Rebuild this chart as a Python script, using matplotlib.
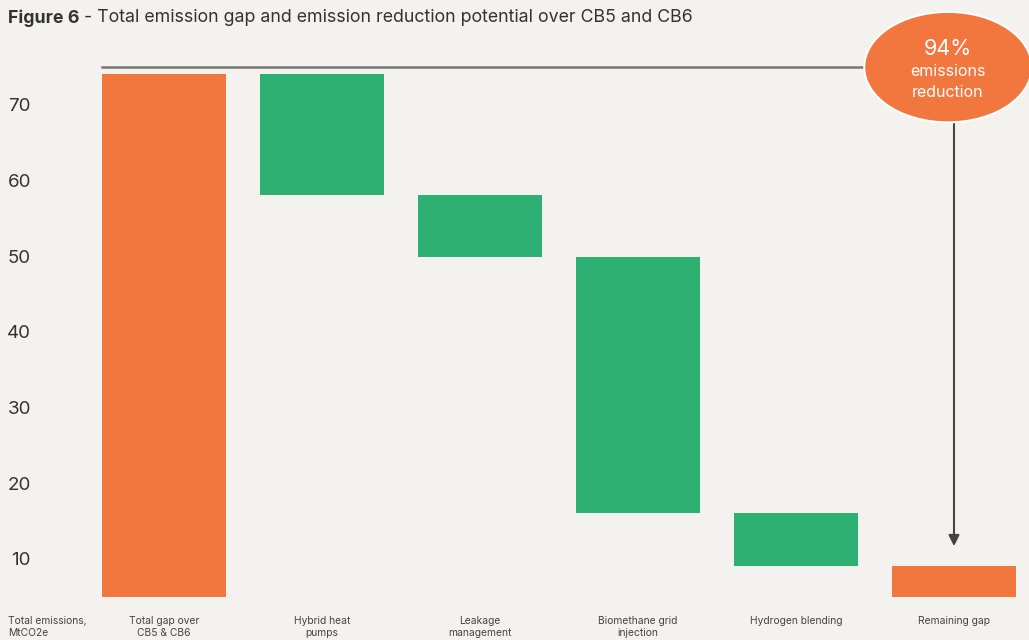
import matplotlib
matplotlib.use("Agg")
import matplotlib.pyplot as plt
from matplotlib.patches import Ellipse

# Waterfall data (MtCO2e)
baseline = 5.0
categories = ["Total gap over\nCB5 & CB6", "Hybrid heat\npumps", "Leakage\nmanagement",
              "Biomethane grid\ninjection", "Hydrogen blending", "Remaining gap"]
total_gap = 69.1
reductions = [16.0, 8.2, 33.8, 7.0]
remaining_gap = 4.1
yticks = [10, 20, 30, 40, 50, 60, 70]
reduction_pct = "94%"

ORANGE = "#f2773f"
GREEN = "#2fb073"
BG = "#f3f2ee"
TEXT = "#333333"

plt.rcParams["font.family"] = ["Inter", "DejaVu Sans"]

fig = plt.figure(figsize=(10.29, 6.40), dpi=100, facecolor=BG)
W, H = 1029, 640
ax = fig.add_axes([40 / W, (640 - 598) / H, 989 / W, (598 - 20) / H])
ax.set_facecolor(BG)
ax.set_xlim(0.2152, 6.4747)
ax.set_ylim(4.846, 81.23)

bar_w = 0.78
xs = list(range(1, len(categories) + 1))

# Total gap bar
ax.bar(xs[0], total_gap, bottom=baseline, width=bar_w, color=ORANGE, zorder=2)

# Floating reduction bars
level = baseline + total_gap
for x, r in zip(xs[1:5], reductions):
    ax.bar(x, r, bottom=level - r, width=bar_w, color=GREEN, zorder=2)
    level -= r

# Remaining gap bar
ax.bar(xs[5], remaining_gap, bottom=baseline, width=bar_w, color=ORANGE, zorder=2)

# Axes styling
for s in ax.spines.values():
    s.set_visible(False)
ax.set_yticks(yticks)
ax.set_yticklabels([str(t) for t in yticks], fontsize=13.5, color=TEXT)
ax.tick_params(axis="y", length=0, pad=6.5)
ax.set_xticks(xs)
ax.set_xticklabels(categories, fontsize=7.4, color="#444444", linespacing=1.3)
ax.tick_params(axis="x", length=0, pad=13)

# Axis caption under the tick labels
ax.text(8 / W, (640 - 616) / H, "Total emissions,\nMtCO2e", transform=fig.transFigure,
        ha="left", va="top", fontsize=7.4, color="#444444", linespacing=1.3)

# Reference line from the top of the total gap to the callout
line_y = baseline + total_gap + 0.9
ell_x, ell_y = 5.962, line_y
ax.plot([1 - bar_w / 2, ell_x - 0.5], [line_y, line_y], color="#777777", lw=1.8,
        zorder=1, clip_on=False)

# Callout ellipse
ell = Ellipse((ell_x, ell_y), width=1.06, height=14.6, facecolor=ORANGE,
              edgecolor="white", lw=1.5, zorder=4, clip_on=False)
ax.add_patch(ell)
ax.text(ell_x, ell_y + 2.4, reduction_pct, ha="center", va="center", fontsize=15.5,
        color="white", zorder=5)
ax.text(ell_x, ell_y - 0.6, "emissions", ha="center", va="center", fontsize=11.5,
        color="white", zorder=5)
ax.text(ell_x, ell_y - 3.4, "reduction", ha="center", va="center", fontsize=11.5,
        color="white", zorder=5)

# Arrow down to the remaining gap
ax.annotate("", xy=(xs[5], baseline + remaining_gap + 2.6), xytext=(xs[5], ell_y - 7.2),
            arrowprops=dict(arrowstyle="-|>", color="#444444", lw=1.5,
                            mutation_scale=16, shrinkA=0, shrinkB=0), zorder=3)

# Title: bold figure number followed by the regular description
title_y = (640 - 18) / H
t1 = fig.text(8 / W, title_y, "Figure 6", fontsize=12.8, fontweight="bold",
              color=TEXT, ha="left", va="center")
fig.canvas.draw()
bb = t1.get_window_extent(renderer=fig.canvas.get_renderer())
fig.text((bb.x1 + 4) / W, title_y,
         "- Total emission gap and emission reduction potential over CB5 and CB6",
         fontsize=12.8, color=TEXT, ha="left", va="center")

fig.savefig("out.png", dpi=100, facecolor=BG)
